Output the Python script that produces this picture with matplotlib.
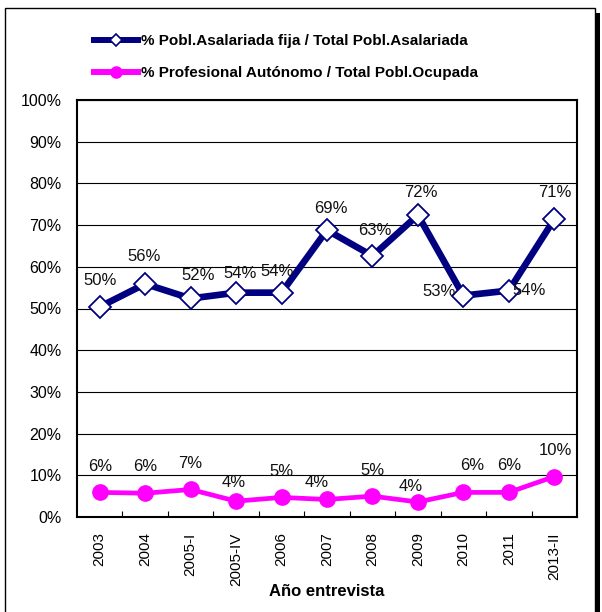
import matplotlib
matplotlib.use("Agg")
import matplotlib.pyplot as plt
from matplotlib.lines import Line2D
from matplotlib.patches import Rectangle
from matplotlib.ticker import FixedLocator, PercentFormatter

plt.rcParams["font.family"] = ["Liberation Sans", "DejaVu Sans"]

years = ["2003", "2004", "2005-I", "2005-IV", "2006", "2007",
         "2008", "2009", "2010", "2011", "2013-II"]
fija = [50.4, 55.9, 52.4, 53.8, 53.8, 68.8, 62.6, 72.4, 53.1, 54.3, 71.4]
autonomo = [5.9, 5.7, 6.6, 3.8, 4.7, 4.2, 5.0, 3.6, 5.9, 5.9, 9.7]

label_fija = "% Pobl.Asalariada fija / Total Pobl.Asalariada"
label_auto = "% Profesional Autónomo / Total Pobl.Ocupada"

# label offsets in pixels (dx, dy), as placed in the original
off_fija = [(0, 26), (-1, 27), (8, 23), (4, 19), (-4, 21), (4, 22),
            (2, 25), (3, 23), (-24, 4), (20, 0), (1, 27)]
off_auto = [(0, 26), (0, 27), (0, 26), (-2, 19), (0, 26), (-10, 17),
            (0, 26), (-7, 15), (9, 27), (0, 27), (1, 26)]

NAVY = "#000080"
PINK = "#FF00FF"

fig = plt.figure(figsize=(6.02, 6.12), dpi=100)
W, H = 602, 612

# outer frame with shadow on the right
fig.patches.append(Rectangle((596 / W, 0), 4 / W, 1 - 13 / H, transform=fig.transFigure,
                             facecolor="black", edgecolor="none", zorder=-2))
fig.patches.append(Rectangle((5 / W, -0.01), 590 / W, 1 - 8 / H + 0.01, transform=fig.transFigure,
                             facecolor="white", edgecolor="black", linewidth=1.0, zorder=-1))

ax = fig.add_axes([77 / W, 1 - 517 / H, 500 / W, 417 / H])
x = list(range(len(years)))

ax.plot(x, fija, color=NAVY, lw=4.8, marker="D", ms=11.5, mfc="white",
        mec=NAVY, mew=1.3, zorder=4, solid_joinstyle="miter")
ax.plot(x, autonomo, color=PINK, lw=3.4, marker="o", ms=11, mfc=PINK,
        mec=PINK, zorder=4)

for xi, v, (dx, dy) in zip(x, fija, off_fija):
    ax.annotate(f"{round(v):d}%", (xi, v), xytext=(dx, dy), textcoords="offset pixels",
                ha="center", va="center", fontsize=12, color="#111111", zorder=5)
for xi, v, (dx, dy) in zip(x, autonomo, off_auto):
    ax.annotate(f"{round(v):d}%", (xi, v), xytext=(dx, dy), textcoords="offset pixels",
                ha="center", va="center", fontsize=12, color="#111111", zorder=5)

ax.set_xlim(-0.5, len(years) - 0.5)
ax.set_ylim(0, 100)
ax.yaxis.set_major_locator(FixedLocator(range(0, 101, 10)))
ax.yaxis.set_major_formatter(PercentFormatter(decimals=0))
ax.grid(axis="y", color="black", lw=0.8)
ax.set_axisbelow(True)

ax.set_xticks(x)
ax.set_xticklabels(years, rotation=90, fontsize=11)
ax.set_xticks([i + 0.5 for i in x[:-1]], minor=True)
ax.tick_params(axis="x", which="major", length=0, pad=11)
ax.tick_params(axis="x", which="minor", direction="in", length=4, width=0.8)
ax.tick_params(axis="y", length=0, pad=11, labelsize=11.5)
for s in ax.spines.values():
    s.set_linewidth(1.5)

ax.set_xlabel("Año entrevista", fontsize=12, fontweight="bold", labelpad=-1)

handles = [
    Line2D([], [], color=NAVY, lw=4.3, marker="D", ms=6, mfc="white", mec=NAVY, mew=1.2),
    Line2D([], [], color=PINK, lw=4.3, marker="o", ms=8, mfc=PINK, mec=PINK),
]
fig.legend(handles, [label_fija, label_auto], loc="upper left",
           bbox_to_anchor=(94 / W, 1 - 34 / H), frameon=False, borderpad=0,
           borderaxespad=0, handlelength=2.9, handletextpad=0.2, labelspacing=1.2,
           prop={"weight": "bold", "size": 11})

fig.savefig("out.png", dpi=100)
